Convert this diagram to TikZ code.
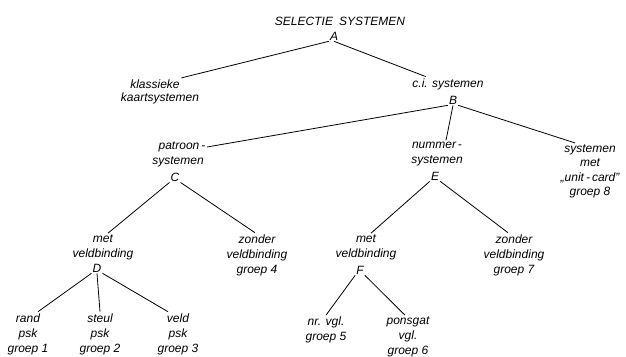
\documentclass[tikz,border=0pt]{standalone}
\usepackage{fontspec}
\setmainfont{Liberation Sans}
\usetikzlibrary{calc}
\begin{document}
\begin{tikzpicture}[x=1pt,y=-1pt,
  lbl/.style={font=\fontsize{12}{15}\selectfont\itshape, inner sep=1.5pt, align=center},
  ltr/.style={font=\fontsize{12}{15}\selectfont\itshape, inner sep=1pt},
  conn/.style={line width=0.8pt, black}]
\useasboundingbox[fill=white] (0,0) rectangle (626,356);
% nodes
\node[lbl] (title) at (340,21) {SELECTIE\enspace SYSTEMEN};
\node[ltr] (A) at (334,36) {A};
\node[lbl] (kl1) at (155,84) {klassieke};
\node[lbl] (kl2) at (160,98) {kaartsystemen};
\node[lbl] (ci) at (448,84) {c.i. systemen};
\node[ltr] (B) at (453,100) {B};
\node[lbl] (pa1) at (182,147) {patroon\,-};
\node[lbl] (pa2) at (178,162) {systemen};
\node[ltr] (C) at (175,177) {C};
\node[lbl] (nu) at (437,154) {nummer\,-\\systemen};
\node[ltr] (E) at (435,176) {E};
\node[lbl, font=\fontsize{12}{14.5}\selectfont\itshape] (un) at (590,171.5) {systemen\\met\\„unit\,-\,card”\\groep 8};
\node[lbl] (mD) at (103,247.5) {met\\veldbinding};
\node[ltr] (D) at (97,268) {D};
\node[lbl] (zC) at (257,255) {zonder\\veldbinding\\groep 4};
\node[lbl] (mF) at (366,247.5) {met\\veldbinding};
\node[ltr] (F) at (360,270) {F};
\node[lbl] (zE) at (514,255) {zonder\\veldbinding\\groep 7};
\node[lbl] (g1) at (28,334) {rand\\psk\\groep 1};
\node[lbl] (g2) at (100,334) {steul\\psk\\groep 2};
\node[lbl] (g3) at (178,334) {veld\\psk\\groep 3};
\node[lbl] (g5) at (326,330) {nr. vgl.\\groep 5};
\node[lbl] (g6) at (408,337) {ponsgat\\vgl.\\groep 6};
% connectors
\draw[conn] (A.south west) -- (kl1.north east);
\draw[conn] (A.south) -- ($(ci.north)+(-22,0)$);
\draw[conn] (B.south west) -- (pa1.east);
\draw[conn] (B.south) -- ($(nu.north)+(9,0)$);
\draw[conn] (B.south east) -- ($(un.north)+(-15,0)$);
\draw[conn] (C.south west) -- ($(mD.north)+(5,0)$);
\draw[conn] (C.south east) -- ($(zC.north)+(-2,0)$);
\draw[conn] (E.south west) -- ($(mF.north)+(5,0)$);
\draw[conn] (E.south east) -- ($(zE.north)+(-6,0)$);
\draw[conn] (D.south west) -- ($(g1.north)+(10,0)$);
\draw[conn] (D.south) -- (g2.north);
\draw[conn] (D.south east) -- ($(g3.north)+(-10,0)$);
\draw[conn] (F.south west) -- (g5.north);
\draw[conn] (F.south east) -- ($(g6.north)+(-3,0)$);
\end{tikzpicture}
\end{document}
